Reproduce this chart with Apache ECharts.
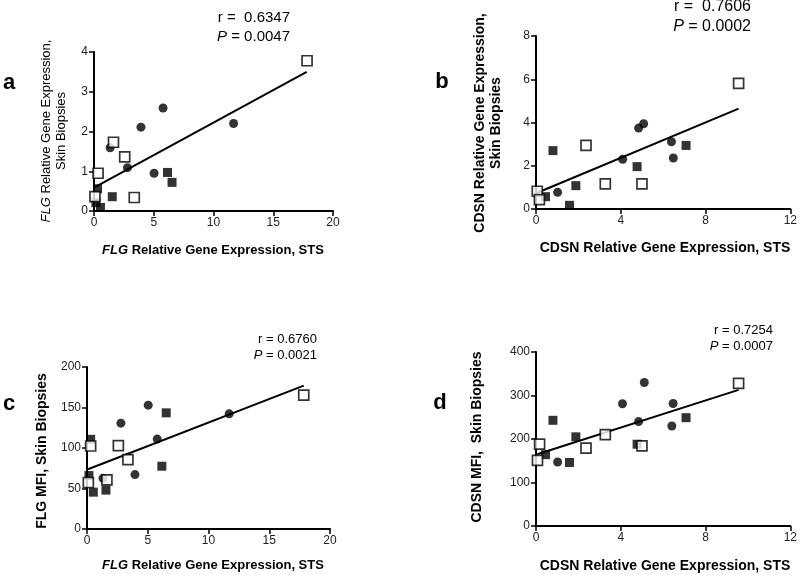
<!DOCTYPE html>
<html>
<head>
<meta charset="utf-8">
<script src="https://cdn.jsdelivr.net/npm/echarts@6/dist/echarts.min.js"></script>
<style>html,body{margin:0;padding:0;background:#fff}#c{width:800px;height:575px}</style>
</head>
<body>
<div id="c"></div>
<script>
// ---------- Panel a: FLG STS vs FLG skin biopsies ----------
const aCircleX = [1.35, 2.80, 3.93, 5.03, 5.78, 11.68];
const aCircleY = [1.59, 1.09, 2.11, 0.95, 2.59, 2.20];
const aFilledX = [0.30, 0.16, 0.54, 1.53, 6.15, 6.53];
const aFilledY = [0.56, 0.21, 0.09, 0.36, 0.97, 0.72];
const aOpenX   = [0.08, 0.34, 1.63, 2.57, 3.37, 17.83];
const aOpenY   = [0.36, 0.95, 1.73, 1.36, 0.34, 3.78];
const aFitX = [0.08, 17.80];
const aFitY = [0.60, 3.50];

// ---------- Panel b: CDSN STS vs CDSN skin biopsies ----------
const bCircleX = [1.02, 4.09, 4.84, 5.08, 6.39, 6.48];
const bCircleY = [0.77, 2.30, 3.74, 3.94, 3.11, 2.36];
const bFilledX = [0.45, 0.80, 1.88, 1.58, 4.77, 7.08];
const bFilledY = [0.57, 2.70, 1.08, 0.17, 1.96, 2.94];
const bOpenX   = [0.06, 0.16, 2.36, 3.27, 5.00, 9.56];
const bOpenY   = [0.82, 0.43, 2.94, 1.16, 1.16, 5.81];
const bFitX = [0.06, 9.56];
const bFitY = [0.75, 4.64];

// ---------- Panel c: FLG STS vs FLG MFI ----------
const cCircleX = [1.32, 2.79, 3.95, 5.04, 5.78, 11.70];
const cCircleY = [62.7, 130.7, 67.2, 152.9, 111.0, 142.2];
const cFilledX = [0.30, 0.16, 0.52, 1.56, 6.16, 6.52];
const cFilledY = [110.7, 66.0, 45.5, 48.0, 77.5, 143.4];
const cOpenX   = [0.11, 0.30, 1.64, 2.58, 3.37, 17.84];
const cOpenY   = [57.4, 102.5, 60.7, 102.9, 85.7, 165.2];
const cFitX = [0.08, 17.84];
const cFitY = [73.8, 177.0];

// ---------- Panel d: CDSN STS vs CDSN MFI ----------
const dCircleX = [1.02, 4.08, 4.84, 5.11, 6.41, 6.47];
const dCircleY = [147, 281, 240, 330, 230, 281.5];
const dFilledX = [0.45, 0.80, 1.88, 1.58, 4.77, 7.08];
const dFilledY = [164, 243, 205, 146, 188, 249];
const dOpenX   = [0.17, 0.07, 2.36, 3.27, 5.00, 9.56];
const dOpenY   = [188, 151, 179, 210, 184, 328];
const dFitX = [0.06, 9.56];
const dFitY = [165, 313];

// stats text
const statsR = ['r =  0.6347', 'r =  0.7606', 'r = 0.6760', 'r = 0.7254'];
const statsP = ['0.0047', '0.0002', '0.0021', '0.0007'];
const panelLetters = ['a', 'b', 'c', 'd'];

const FONT = '"Liberation Sans", Arial, sans-serif';
const zip = (xs, ys) => xs.map((x, i) => [x, ys[i]]);

const grids = [
  {left: 94, top: 52, width: 239, height: 159},
  {left: 536, top: 36, width: 256, height: 173},
  {left: 87, top: 367, width: 243, height: 162},
  {left: 536, top: 352, width: 256, height: 174}
];
const xRanges = [[0, 20, 5], [0, 12, 4], [0, 20, 5], [0, 12, 4]];
const yRanges = [[0, 4, 1], [0, 8, 2], [0, 200, 50], [0, 400, 100]];

function axisCommon() {
  return {
    type: 'value',
    splitLine: {show: false},
    axisLine: {show: true, onZero: false, lineStyle: {color: '#000', width: 2}},
    axisTick: {show: true, inside: false, length: 5, lineStyle: {color: '#000', width: 1.5}},
    axisLabel: {color: '#222', fontSize: 12, fontFamily: FONT, margin: 6}
  };
}
const xAxes = xRanges.map((r, i) => Object.assign(axisCommon(), {gridIndex: i, min: r[0], max: r[1], interval: r[2]}));
const yAxes = yRanges.map((r, i) => Object.assign(axisCommon(), {gridIndex: i, min: r[0], max: r[1], interval: r[2]}));

const panels = [
  [aCircleX, aCircleY, aFilledX, aFilledY, aOpenX, aOpenY, aFitX, aFitY],
  [bCircleX, bCircleY, bFilledX, bFilledY, bOpenX, bOpenY, bFitX, bFitY],
  [cCircleX, cCircleY, cFilledX, cFilledY, cOpenX, cOpenY, cFitX, cFitY],
  [dCircleX, dCircleY, dFilledX, dFilledY, dOpenX, dOpenY, dFitX, dFitY]
];
const series = [];
panels.forEach((p, i) => {
  series.push({type: 'line', xAxisIndex: i, yAxisIndex: i, data: zip(p[6], p[7]), symbol: 'none',
    lineStyle: {color: '#000', width: 2}, z: 2, silent: true});
  series.push({type: 'scatter', xAxisIndex: i, yAxisIndex: i, data: zip(p[0], p[1]), symbol: 'circle', symbolSize: 9,
    itemStyle: {color: '#000'}, z: 3});
  series.push({type: 'scatter', xAxisIndex: i, yAxisIndex: i, data: zip(p[2], p[3]), symbol: 'rect', symbolSize: 9,
    itemStyle: {color: '#000'}, z: 3});
  series.push({type: 'scatter', xAxisIndex: i, yAxisIndex: i, data: zip(p[4], p[5]), symbol: 'rect', symbolSize: 10,
    itemStyle: {color: '#fff', borderColor: '#000', borderWidth: 1.7}, z: 4});
});

function txt(x, y, text, opts) {
  return Object.assign({type: 'text', x: x, y: y, style: Object.assign({
    text: text, fill: '#000', fontFamily: FONT, fontSize: 13, align: 'center', verticalAlign: 'middle'
  }, opts || {})});
}
function rotTxt(x, y, text, opts) {
  const t = txt(x, y, text, opts);
  t.rotation = Math.PI / 2;
  return t;
}
const italicBold = (sz) => ({fontStyle: 'italic', fontWeight: 'bold', fontSize: sz, fontFamily: FONT, fill: '#000'});
const plainBold = (sz) => ({fontWeight: 'bold', fontSize: sz, fontFamily: FONT, fill: '#000'});
const italicReg = (sz) => ({fontStyle: 'italic', fontSize: sz, fontFamily: FONT, fill: '#000'});
const plainReg = (sz) => ({fontSize: sz, fontFamily: FONT, fill: '#000'});

const letterPos = [[9, 83], [442, 82], [9, 404], [440, 403]];
const statPos = [[290, 18, 15, 19], [751, 7, 16, 20], [317, 339, 13, 16], [773, 330, 13, 16]];

const graphics = [];
panelLetters.forEach((l, i) => {
  graphics.push(txt(letterPos[i][0], letterPos[i][1], l, {fontSize: 22, fontWeight: 'bold'}));
});
statPos.forEach((s, i) => {
  graphics.push(txt(s[0], s[1], statsR[i], {fontSize: s[2], align: 'right'}));
  graphics.push(txt(s[0], s[1] + s[3], '{p|P} = ' + statsP[i], {fontSize: s[2], align: 'right',
    rich: {p: italicReg(s[2])}}));
});
// x-axis titles
graphics.push(txt(213, 250, '{i|FLG}{b| Relative Gene Expression, STS}', {rich: {i: italicBold(13), b: plainBold(13)}}));
graphics.push(txt(665, 248, 'CDSN Relative Gene Expression, STS', {fontSize: 14, fontWeight: 'bold'}));
graphics.push(txt(213, 565, '{i|FLG}{b| Relative Gene Expression, STS}', {rich: {i: italicBold(13), b: plainBold(13)}}));
graphics.push(txt(665, 566, 'CDSN Relative Gene Expression, STS', {fontSize: 14, fontWeight: 'bold'}));
// y-axis titles
graphics.push(rotTxt(54, 131, '{i|FLG}{r| Relative Gene Expression,}\n{r|Skin Biopsies}',
  {lineHeight: 15, rich: {i: italicReg(13), r: plainReg(13)}}));
graphics.push(rotTxt(488, 123, 'CDSN Relative Gene Expression,\nSkin Biopsies', {fontSize: 14, fontWeight: 'bold', lineHeight: 16}));
graphics.push(rotTxt(42, 451, 'FLG MFI, Skin Biopsies', {fontSize: 14, fontWeight: 'bold'}));
graphics.push(rotTxt(477, 437, 'CDSN MFI,  Skin Biopsies', {fontSize: 14, fontWeight: 'bold'}));

const chart = echarts.init(document.getElementById('c'), null, {renderer: 'canvas'});
chart.setOption({
  animation: false,
  backgroundColor: '#fff',
  grid: grids,
  xAxis: xAxes,
  yAxis: yAxes,
  series: series,
  graphic: graphics
});
</script>
</body>
</html>
